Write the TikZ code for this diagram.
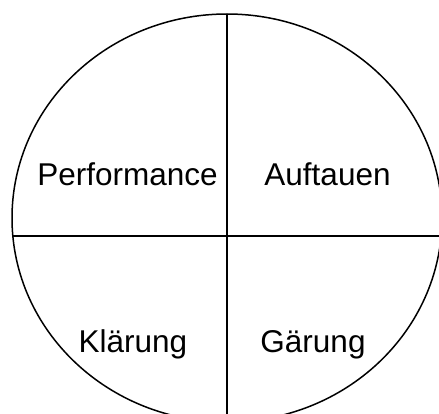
\documentclass[tikz,border=0pt]{standalone}
\usepackage{fontspec}
\setmainfont{Liberation Sans}
\tikzset{
    phase/.style={anchor=base, inner sep=0pt, font=\fontsize{31.5}{31.5}\selectfont},
    rand/.style={line width=1.5pt}
}

\begin{document}
\begin{tikzpicture}[x=1pt, y=-1pt]
\useasboundingbox (0,0) rectangle (439,414);
\clip (0,0) rectangle (439,414);
\draw[rand] (227,218) ellipse [x radius=215, y radius=204];
\coordinate (oben) at (227,14);
\coordinate (unten) at (227,414);
\coordinate (links) at (12.5,236);
\coordinate (rechts) at (439,236);
\draw[rand] (oben) -- (unten);
\draw[rand] (links) -- (rechts);
\node[phase] (perf) at (127.5,186) {Performance};
\node[phase] (auft) at (327.5,186) {Auftauen};
\node[phase] (klar) at (133,352) {Klärung};
\node[phase] (gar)  at (313,352) {Gärung};
\end{tikzpicture}
\end{document}
